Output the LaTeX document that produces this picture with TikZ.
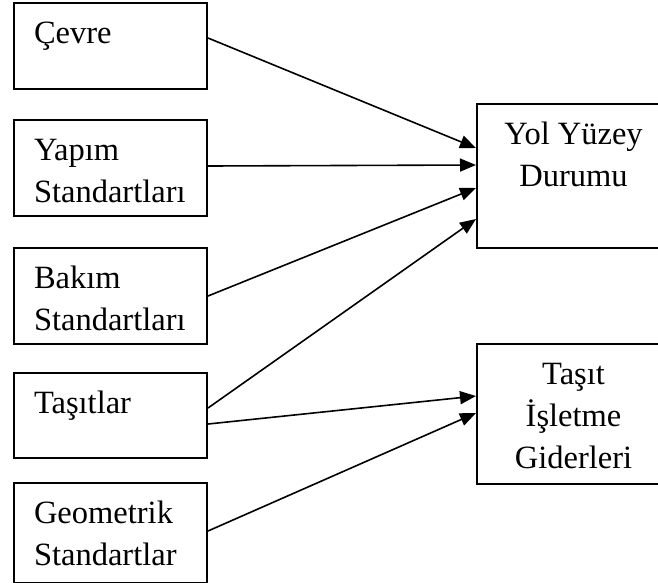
\documentclass[tikz,border=0pt]{standalone}
\usepackage{fontspec}
\setmainfont{Liberation Serif}
\usetikzlibrary{arrows.meta}
\tikzset{every node/.style={draw,rectangle,anchor=north west,inner xsep=20pt,inner ysep=11pt,line width=2pt}}
\newcommand{\ltxt}[2]{\parbox[t][#1pt][t]{153pt}{\strut #2}}
\newcommand{\ctxt}[2]{\parbox[t][#1pt][t]{153pt}{\centering\strut #2}}

\begin{document}
\begin{tikzpicture}[x=1pt,y=-1pt,font=\fontsize{32.5}{42}\selectfont,
    >={Triangle[length=16pt,width=13pt]},line width=1.6pt]
      \useasboundingbox (0,0) rectangle (658,582);
      \node (C) at (13,2) {\ltxt{64}{Çevre}};
      \node (Y) at (13,119) {\ltxt{74}{Yapım\\Standartları}};
      \node (B) at (13,247) {\ltxt{74}{Bakım\\Standartları}};
      \node (T) at (13,372) {\ltxt{63}{Taşıtlar}};
      \node (G) at (13,482) {\ltxt{78}{Geometrik\\Standartlar}};
      \node (D) at (476,103) {\ctxt{122}{Yol Yüzey\\Durumu}};
      \node (I) at (476,343) {\ctxt{118}{Taşıt\\İşletme\\Giderleri}};

      \draw[->] ([yshift=8pt]C.east) -- ([yshift=28pt]D.west);
      \draw[->] ([yshift=2pt]Y.east) -- ([yshift=11pt]D.west);
      \draw[->] (B.east) -- ([yshift=-12pt]D.west);
      \draw[->] ([yshift=7.5pt]T.east) -- ([yshift=-43pt]D.west);
      \draw[->] ([yshift=-8.5pt]T.east) -- ([yshift=18pt]I.west);
      \draw[->] ([yshift=2pt]G.east) -- ([yshift=1pt]I.west);
    \end{tikzpicture}
\end{document}
